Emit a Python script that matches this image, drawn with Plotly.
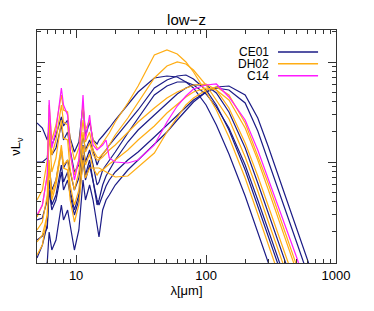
import numpy as np
import plotly.graph_objects as go

# wavelength grid (micron)
wavelength_um = [5, 5.5, 6.0, 6.2, 6.5, 7.0, 7.7, 8.0, 8.6, 9.0, 9.7, 10.5, 11.3, 11.8, 12.7,
                 13.5, 14.5, 15, 16, 17, 18, 20, 25, 30, 40, 50, 60, 70, 80, 100, 120, 150,
                 200, 250, 300, 400, 500, 700, 1000]

# log10(nu L_nu), arbitrary units
ce01_1 = [0.39, 0.34, 0.22, 0.34, 0.17, 0.27, 0.45, 0.36, 0.42, 0.24, 0.10, 0.20, 0.57, 0.26, 0.40,
          0.22, 0.18, 0.22, 0.26, 0.30, 0.34, 0.42, 0.58, 0.70, 0.84, 0.86, 0.85, 0.80, 0.74, 0.57,
          0.37, 0.08, -0.34, -0.70, -1.00, -1.47, -1.83, -2.38, -2.96]
ce01_2 = [0.00, 0.00, 0.04, 0.24, 0.07, 0.14, 0.37, 0.22, 0.30, 0.12, -0.10, -0.03, 0.27, 0.12, 0.22,
          0.12, -0.03, 0.02, 0.08, 0.12, 0.17, 0.24, 0.40, 0.52, 0.74, 0.82, 0.86, 0.87, 0.83, 0.72,
          0.57, 0.32, -0.08, -0.43, -0.73, -1.20, -1.56, -2.11, -2.69]
ce01_3 = [-0.58, -0.56, -0.38, -0.03, -0.28, -0.18, 0.12, -0.06, 0.02, -0.10, -0.28, -0.16, 0.17, 0.00, 0.12,
          -0.03, -0.23, -0.20, -0.08, -0.03, 0.02, 0.10, 0.29, 0.44, 0.67, 0.76, 0.80, 0.80, 0.77, 0.68,
          0.55, 0.34, -0.03, -0.38, -0.68, -1.14, -1.50, -2.05, -2.63]
ce01_4 = [-0.78, -0.74, -0.66, -0.28, -0.48, -0.38, -0.10, -0.28, -0.18, -0.33, -0.53, -0.38, 0.02, -0.18, -0.03,
          -0.18, -0.38, -0.43, -0.33, -0.24, -0.18, -0.10, 0.02, 0.10, 0.25, 0.37, 0.47, 0.55, 0.62, 0.70,
          0.75, 0.76, 0.67, 0.44, 0.16, -0.31, -0.67, -1.22, -1.80]
ce01_5 = [-1.33, -1.18, -1.00, -0.70, -0.88, -0.78, -0.43, -0.58, -0.48, -0.63, -0.88, -0.68, -0.18, -0.38, -0.23,
          -0.38, -0.63, -0.75, -0.48, -0.38, -0.33, -0.23, -0.08, 0.02, 0.17, 0.30, 0.42, 0.52, 0.60, 0.70,
          0.74, 0.72, 0.59, 0.31, 0.02, -0.45, -0.81, -1.36, -1.94]
ce01_6 = [-0.96, -0.83, -0.63, -0.18, -0.43, -0.33, -0.03, -0.20, -0.10, -0.28, -0.48, -0.33, 0.07, -0.13, 0.02,
          -0.20, -0.43, -0.38, -0.23, -0.14, -0.08, 0.02, 0.20, 0.32, 0.47, 0.59, 0.68, 0.74, 0.77, 0.77,
          0.69, 0.50, 0.14, -0.21, -0.50, -0.96, -1.32, -1.87, -2.45]

dh02_1 = [-0.38, -0.28, 0.02, 0.57, 0.22, 0.37, 0.67, 0.52, 0.50, 0.22, 0.02, 0.14, 0.57, 0.32, 0.42,
          0.22, 0.14, 0.14, 0.19, 0.24, 0.29, 0.40, 0.59, 0.76, 1.07, 1.12, 1.08, 1.00, 0.90, 0.70,
          0.52, 0.25, -0.16, -0.52, -0.83, -1.30, -1.66, -2.21, -2.79]
dh02_2 = [-0.55, -0.43, -0.13, 0.44, 0.07, 0.22, 0.57, 0.40, 0.37, 0.07, -0.13, 0.02, 0.42, 0.20, 0.30,
          0.12, 0.05, 0.04, 0.08, 0.12, 0.17, 0.27, 0.44, 0.59, 0.84, 0.96, 1.00, 0.98, 0.92, 0.77,
          0.62, 0.43, 0.05, -0.29, -0.59, -1.05, -1.41, -1.96, -2.53]
dh02_3 = [-0.68, -0.60, -0.33, 0.32, -0.10, 0.04, 0.42, 0.24, 0.22, -0.08, -0.28, -0.10, 0.30, 0.10, 0.19,
          0.07, 0.02, 0.02, 0.05, 0.09, 0.12, 0.17, 0.30, 0.40, 0.54, 0.64, 0.70, 0.74, 0.77, 0.78,
          0.72, 0.54, 0.19, -0.14, -0.42, -0.88, -1.24, -1.79, -2.37]
dh02_4 = [-0.80, -0.73, -0.53, 0.02, -0.33, -0.18, 0.17, -0.03, 0.02, -0.23, -0.43, -0.28, 0.16, -0.03, 0.08,
          -0.06, -0.13, -0.10, -0.08, -0.05, -0.02, 0.02, 0.12, 0.22, 0.36, 0.49, 0.58, 0.65, 0.70, 0.74,
          0.72, 0.62, 0.34, 0.02, -0.27, -0.74, -1.10, -1.65, -2.23]
dh02_5 = [-0.93, -0.83, -0.53, -0.03, -0.38, -0.23, 0.12, -0.06, -0.08, -0.38, -0.60, -0.43, 0.02, -0.16, -0.06,
          -0.06, -0.06, -0.06, -0.08, -0.10, -0.12, -0.15, -0.14, -0.05, 0.09, 0.30, 0.45, 0.57, 0.64, 0.72,
          0.75, 0.67, 0.39, 0.07, -0.21, -0.68, -1.04, -1.59, -2.17]

c14_1 = [-0.53, -0.43, -0.13, 0.62, 0.14, 0.32, 0.74, 0.57, 0.47, 0.12, -0.18, 0.02, 0.67, 0.22, 0.47,
         0.17, 0.12, 0.14, 0.17, 0.22, 0.04, 0.00, -0.01, 0.02, 0.17, 0.40, 0.56, 0.66, 0.73, 0.77,
         0.78, 0.65, 0.42, 0.12, -0.16, -0.60, -0.96, -1.53, -2.13]

series_names = ["CE01", "DH02", "C14"]
series_colors = ["#1b1b86", "#ffad14", "#ff1aff"]
groups = [[ce01_1, ce01_2, ce01_3, ce01_4, ce01_5, ce01_6],
          [dh02_1, dh02_2, dh02_3, dh02_4, dh02_5],
          [c14_1]]

FONT = "Liberation Sans, Arial, Helvetica, sans-serif"

fig = go.Figure()
for gi in range(len(groups)):
    for curve in groups[gi]:
        fig.add_trace(go.Scatter(
            x=wavelength_um, y=10 ** np.array(curve), mode="lines",
            line=dict(color=series_colors[gi], width=1.2),
            showlegend=False, hoverinfo="skip"))

# legend drawn as text on the left of the line sample
leg_y = [0.906, 0.855, 0.804]
for name, col, yy in zip(series_names, series_colors, leg_y):
    fig.add_annotation(x=0.778, y=yy, xref="paper", yref="paper", text=name,
                       showarrow=False, xanchor="right", yanchor="middle", height=11,
                       borderpad=0,
                       font=dict(family=FONT, size=12, color="black"))
    fig.add_shape(type="line", xref="paper", yref="paper", x0=0.806, x1=0.94,
                  y0=yy, y1=yy, line=dict(color=col, width=1.5))

axis_common = dict(showline=True, linecolor="#333", linewidth=1, mirror="ticks",
                   ticks="inside", tickcolor="#333", ticklen=8, showgrid=False,
                   zeroline=False, automargin=False)

fig.update_xaxes(type="log", range=[np.log10(5), 3], dtick=1,
                 tickfont=dict(family=FONT, size=13, color="black"),
                 title=dict(text="λ[μm]", font=dict(family=FONT, size=13, color="black"),
                            standoff=2),
                 minor=dict(ticks="inside", ticklen=4, tickcolor="#333", dtick="D1",
                            showgrid=False),
                 **axis_common)
fig.update_yaxes(type="log", range=[-1.01, 1.32], dtick=1, showticklabels=False,
                 title=dict(text="νL<sub>ν</sub>", font=dict(family=FONT, size=13, color="black"),
                            standoff=16),
                 minor=dict(ticks="inside", ticklen=4, tickcolor="#333", dtick="D1",
                            showgrid=False),
                 **axis_common)

# the page body adds an 8px offset; margins compensate for it
fig.update_layout(
    width=374, height=311,
    margin=dict(l=29, r=46, t=22, b=56),
    paper_bgcolor="white", plot_bgcolor="white",
    title=dict(text="low\u2212z", x=0.5, xref="paper", y=1 - 12 / 311, yanchor="middle",
               font=dict(family=FONT, size=15, color="black")),
    showlegend=False,
)

fig.write_html("out.html")
